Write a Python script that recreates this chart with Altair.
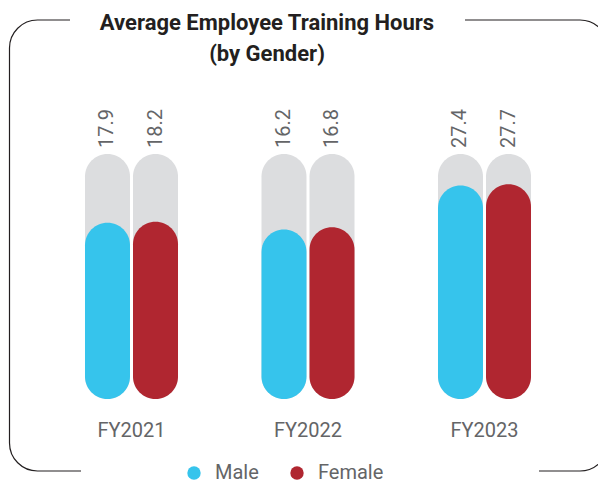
import altair as alt
import pandas as pd

# ---- data ----
YEARS = ["FY2021", "FY2022", "FY2023"]
GENDERS = ["Male", "Female"]
MALE = [17.9, 16.2, 27.4]
FEMALE = [18.2, 16.8, 27.7]
TITLE_LINES = ["Average Employee Training Hours", "(by Gender)"]

# scale limits (track top and hidden baseline)
TRACK_MAX = 35.4
Y_MIN = -26.9

BLUE = "#36c4ec"
RED = "#b02630"
GREY = "#dcdddf"
TEXT = "#646567"
DARK = "#231f20"

W, H = 590, 476

rows = []
for i, y in enumerate(YEARS):
    rows.append({"year": y, "gender": "Male", "value": MALE[i]})
    rows.append({"year": y, "gender": "Female", "value": FEMALE[i]})
df = pd.DataFrame(rows)
cat_df = pd.DataFrame({"year": YEARS})
one = pd.DataFrame({"title": [TITLE_LINES]})

x_enc = alt.X("year:N", sort=YEARS, axis=None,
              scale=alt.Scale(range=[35.25, 564.75], paddingInner=0.473, paddingOuter=0.2365))
xo_enc = alt.XOffset("gender:N", sort=GENDERS,
                     scale=alt.Scale(paddingInner=0.0625, paddingOuter=0))
y_scale = alt.Scale(domain=[Y_MIN, TRACK_MAX], range=[391, 146])

frame = alt.Chart(one).mark_rect(
    fillOpacity=0, stroke=DARK, strokeWidth=1.2, cornerRadius=28, clip=True
).encode(x=alt.value(1.5), x2=alt.value(600), y=alt.value(12), y2=alt.value(463))

gap_top = alt.Chart(one).mark_rect(color="white").encode(
    x=alt.value(62), x2=alt.value(457), y=alt.value(4), y2=alt.value(20))
gap_bottom = alt.Chart(one).mark_rect(color="white").encode(
    x=alt.value(73), x2=alt.value(531), y=alt.value(456), y2=alt.value(470))

track = alt.Chart(df).mark_bar(color=GREY, cornerRadius=22.5).encode(
    x=x_enc, xOffset=xo_enc,
    y=alt.Y(datum=TRACK_MAX, scale=y_scale, axis=None),
    y2=alt.datum(Y_MIN),
)

bars = alt.Chart(df).mark_bar(cornerRadius=22.5).encode(
    x=x_enc, xOffset=xo_enc,
    y=alt.Y("value:Q", scale=y_scale, axis=None),
    y2=alt.datum(Y_MIN),
    color=alt.Color("gender:N", sort=GENDERS,
                    scale=alt.Scale(domain=GENDERS, range=[BLUE, RED]),
                    legend=alt.Legend(orient="none", legendX=176, legendY=455,
                                      direction="horizontal", title=None,
                                      symbolType="circle", symbolSize=180,
                                      symbolStrokeWidth=0, labelFontSize=20,
                                      labelFont="Roboto", labelColor=TEXT,
                                      labelOffset=11, columnPadding=28, padding=0)),
)

values = alt.Chart(df).mark_text(
    angle=270, align="left", baseline="middle", dx=6,
    fontSize=20, font="Roboto", color=TEXT
).encode(
    x=x_enc, xOffset=xo_enc,
    y=alt.Y(datum=TRACK_MAX, scale=y_scale, axis=None),
    text=alt.Text("value:Q", format=".1f"),
)

cats = alt.Chart(cat_df).mark_text(
    baseline="middle", fontSize=20, font="Roboto", color=TEXT
).encode(x=x_enc, y=alt.value(423), text="year:N")

title = alt.Chart(one).mark_text(
    align="center", baseline="alphabetic", fontSize=22, fontWeight="bold",
    font="Roboto", color=DARK, lineHeight=31
).encode(x=alt.value(259), y=alt.value(22), text="title")

chart = alt.layer(frame, gap_top, gap_bottom, track, bars, values, cats, title).properties(
    width=W, height=H, padding=0, autosize=alt.AutoSizeParams(type="none")
).configure_view(stroke=None)

chart.save("out.html", embed_options={"renderer": "svg", "actions": False})
